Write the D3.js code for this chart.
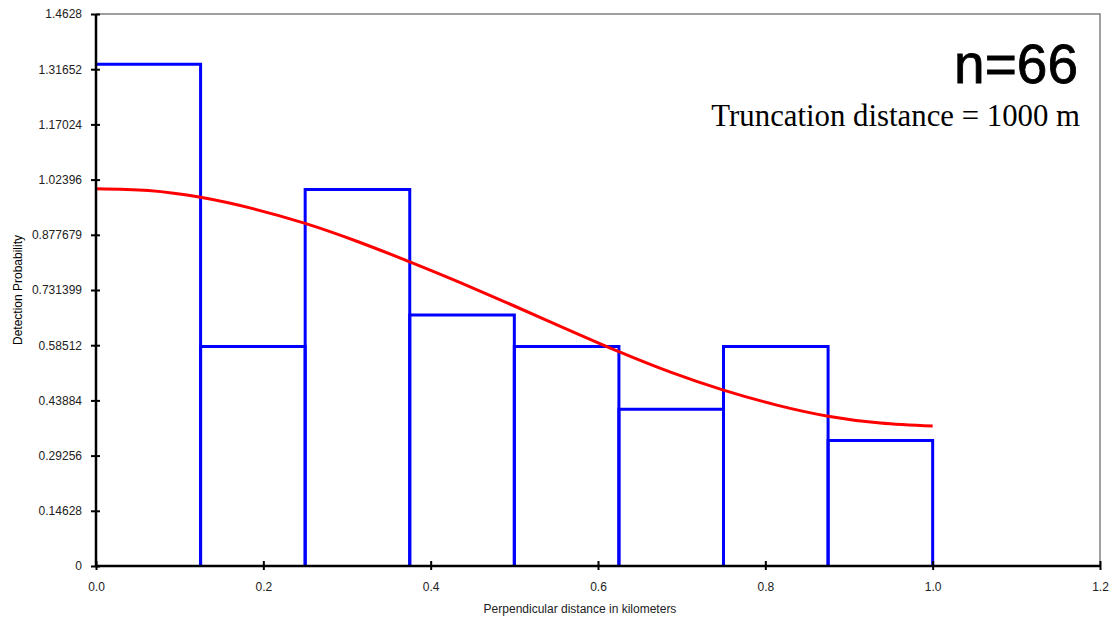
<!DOCTYPE html>
<html>
<head>
<meta charset="utf-8">
<script src="https://cdn.jsdelivr.net/npm/d3@7"></script>
<style>
  html, body { margin: 0; padding: 0; background: #fff; }
  svg { display: block; }
</style>
</head>
<body>
<svg id="chart" width="1114" height="620"></svg>
<script>
// Histogram bins (km) and scaled heights
const binStarts = [0, 0.125, 0.25, 0.375, 0.5, 0.625, 0.75, 0.875];
const binWidth = 0.125;
const binHeights = [1.3298, 0.5818, 0.9974, 0.6649, 0.5818, 0.4156, 0.5818, 0.3325];

// Fitted detection function g(x)
const curveX = [0, 0.0625, 0.125, 0.1875, 0.25, 0.3125, 0.375, 0.4375, 0.5,
                0.5625, 0.625, 0.6875, 0.75, 0.8125, 0.875, 0.9375, 1.0];
const curveY = [1.000, 0.995, 0.977, 0.947, 0.908, 0.860, 0.806, 0.749, 0.689,
                0.628, 0.568, 0.513, 0.466, 0.427, 0.397, 0.379, 0.371];

// Axis ticks
const yTickValues = [0, 0.14628, 0.29256, 0.43884, 0.58512, 0.731399, 0.877679, 1.02396, 1.17024, 1.31652, 1.4628];
const yTickLabels = ["0", "0.14628", "0.29256", "0.43884", "0.58512", "0.731399", "0.877679", "1.02396", "1.17024", "1.31652", "1.4628"];
const xTickValues = [0, 0.2, 0.4, 0.6, 0.8, 1.0, 1.2];
const xTickLabels = ["0.0", "0.2", "0.4", "0.6", "0.8", "1.0", "1.2"];

const SANS = "Arial, 'Liberation Sans', sans-serif";
const SERIF = "'Times New Roman', 'Liberation Serif', serif";

const svg = d3.select("#chart");
const plot = { left: 96, right: 1100, top: 14, bottom: 566 };

const x = d3.scaleLinear().domain([0, 1.2]).range([plot.left, plot.right]);
const y = d3.scaleLinear().domain([0, 1.4628]).range([plot.bottom, plot.top]);

// Frame (top and right)
svg.append("path")
  .attr("d", `M${plot.left},${plot.top}H${plot.right}V${plot.bottom}`)
  .attr("fill", "none")
  .attr("stroke", "#808080")
  .attr("stroke-width", 1.5);

// Histogram bars as open outlines (the first bar's left edge sits on the axis)
svg.append("g")
  .selectAll("path")
  .data(binStarts.map((s, i) => ({ x0: s, x1: s + binWidth, h: binHeights[i] })))
  .join("path")
  .attr("d", d => d.x0 === 0
    ? `M${x(d.x0)},${y(d.h)}H${x(d.x1)}V${y(0)}`
    : `M${x(d.x0)},${y(0)}V${y(d.h)}H${x(d.x1)}V${y(0)}`)
  .attr("fill", "none")
  .attr("stroke", "#0000ff")
  .attr("stroke-width", 3);

// Detection function curve
const line = d3.line()
  .x((d, i) => x(curveX[i]))
  .y(d => y(d))
  .curve(d3.curveNatural);
svg.append("path")
  .attr("d", line(curveY))
  .attr("fill", "none")
  .attr("stroke", "#ff0000")
  .attr("stroke-width", 3);

// Y axis
const yAxis = svg.append("g")
  .attr("transform", `translate(${plot.left},0)`)
  .call(d3.axisLeft(y)
    .tickValues(yTickValues)
    .tickFormat((d, i) => yTickLabels[i])
    .tickSize(5)
    .tickPadding(9));
yAxis.select(".domain").attr("stroke", "#000").attr("stroke-width", 2.5)
  .attr("d", `M0,${plot.top}V${plot.bottom}`);
yAxis.selectAll(".tick line").attr("x1", 4).attr("x2", -5).attr("stroke", "#000").attr("stroke-width", 2);
yAxis.selectAll(".tick text").attr("font-size", 12).attr("fill", "#222")
  .attr("font-family", SANS);

// X axis
const xAxis = svg.append("g")
  .attr("transform", `translate(0,${plot.bottom})`)
  .call(d3.axisBottom(x)
    .tickValues(xTickValues)
    .tickFormat((d, i) => xTickLabels[i])
    .tickSize(4)
    .tickPadding(12));
xAxis.select(".domain").attr("stroke", "#000").attr("stroke-width", 2.5)
  .attr("d", `M${plot.left},0H${plot.right}`);
xAxis.selectAll(".tick line").attr("y1", -5).attr("y2", 4).attr("stroke", "#000").attr("stroke-width", 2);
xAxis.selectAll(".tick text").attr("font-size", 12).attr("fill", "#222")
  .attr("font-family", SANS);

// Axis titles
svg.append("text")
  .attr("transform", "translate(22,290) rotate(-90)")
  .attr("text-anchor", "middle")
  .attr("font-family", SANS)
  .attr("font-size", 12)
  .attr("fill", "#000")
  .text("Detection Probability");

svg.append("text")
  .attr("x", 580)
  .attr("y", 613)
  .attr("text-anchor", "middle")
  .attr("font-family", SANS)
  .attr("font-size", 12)
  .attr("fill", "#222")
  .text("Perpendicular distance in kilometers");

// Annotations
svg.append("text")
  .attr("x", 1078)
  .attr("y", 83)
  .attr("text-anchor", "end")
  .attr("font-family", SANS)
  .attr("font-size", 55)
  .attr("stroke", "#000")
  .attr("stroke-width", 0.8)
  .attr("fill", "#000")
  .text("n=66");

svg.append("text")
  .attr("x", 1080)
  .attr("y", 126)
  .attr("text-anchor", "end")
  .attr("font-family", SERIF)
  .attr("font-size", 30.8)
  .attr("fill", "#000")
  .text("Truncation distance = 1000 m");
</script>
</body>
</html>
